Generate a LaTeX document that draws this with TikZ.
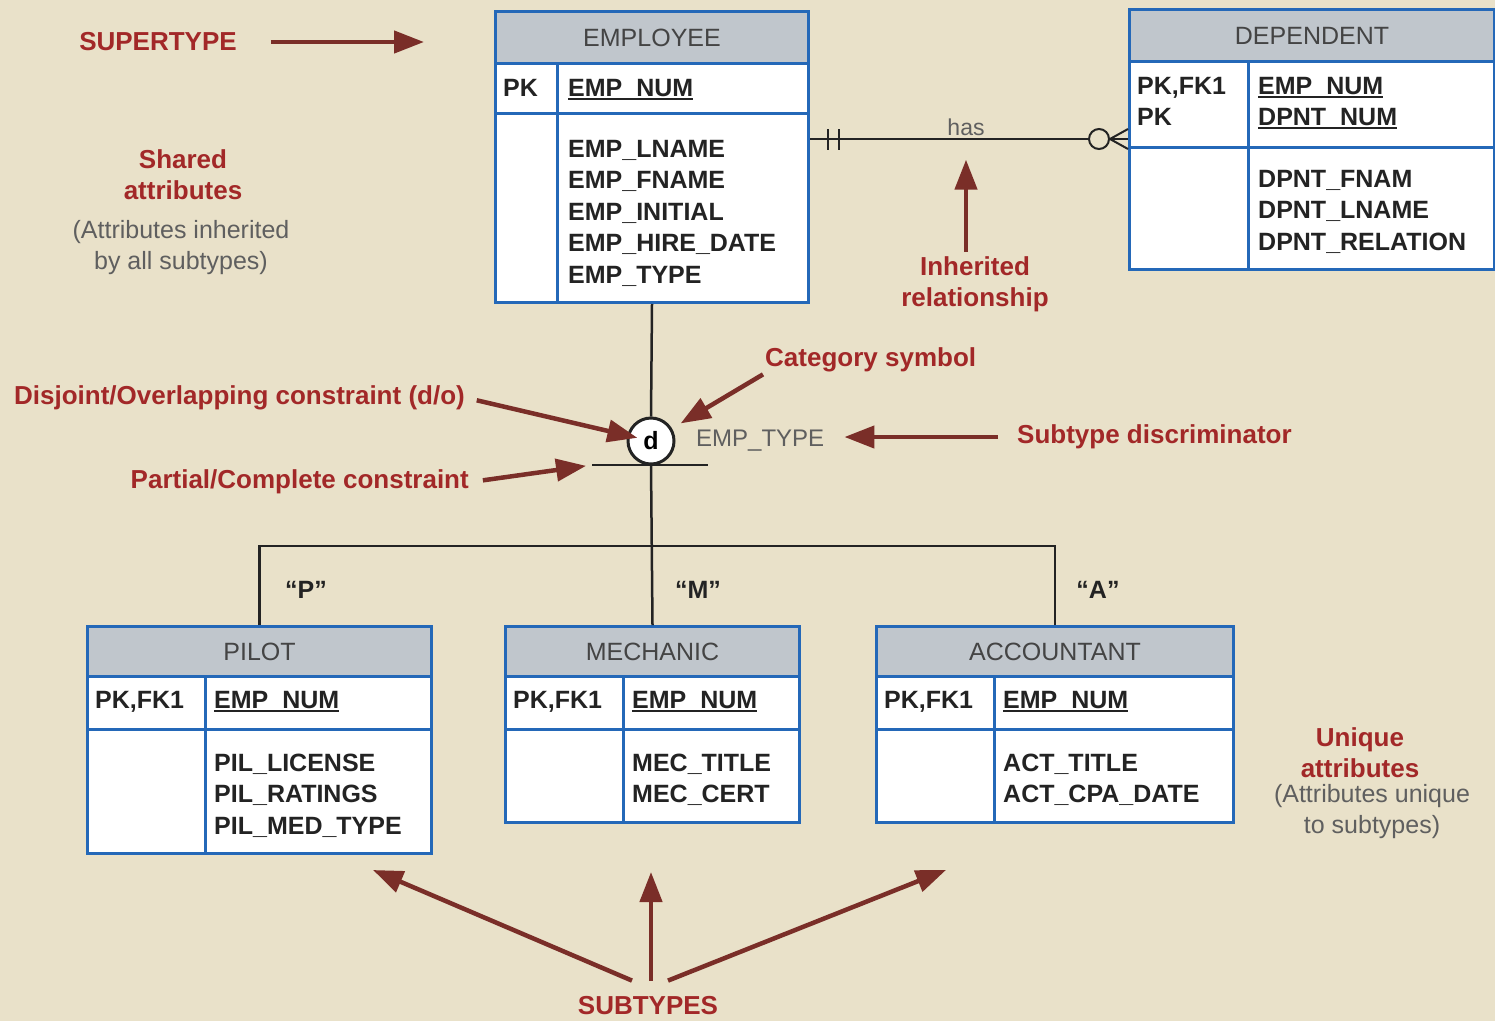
\documentclass[tikz,border=0pt]{standalone}
\usepackage{fontspec}
\setmainfont{Liberation Sans}
\usepackage{tikz}
\usetikzlibrary{arrows.meta}

\definecolor{paper}{RGB}{233,225,201}
\definecolor{tblblue}{RGB}{36,104,184}
\definecolor{headgray}{RGB}{192,198,204}
\definecolor{notered}{RGB}{162,40,40}
\definecolor{arrowred}{RGB}{122,46,40}
\definecolor{inkgray}{RGB}{95,95,95}
\definecolor{inkdark}{RGB}{35,35,35}

\newcommand\keyfield[1]{\setbox0\hbox{#1}\rlap{\rule[-4pt]{\wd0}{1.6pt}}\box0}

\begin{document}
\begin{tikzpicture}[x=1pt, y=-1pt,
	tbox/.style={rectangle, draw=tblblue, line width=3pt, fill=white,
		anchor=north west, inner sep=0pt},
	thead/.style={tbox, fill=headgray, text=inkdark!85,
		font=\fontsize{25}{30}\selectfont},
	tline/.style={draw=tblblue, line width=3pt},
	fld/.style={anchor=base west, inner sep=0pt, text=inkdark,
		font=\bfseries\fontsize{25}{30}\selectfont},
	note/.style={align=center, inner sep=2pt, text=notered,
		font=\bfseries\fontsize{26}{31}\selectfont},
	aside/.style={align=center, inner sep=2pt, text=inkgray,
		font=\fontsize{25}{31}\selectfont},
	link/.style={draw=inkdark, line width=2.5pt},
	pointer/.style={draw=arrowred, line width=4.5pt,
		-{Triangle[length=30pt,width=22pt]}}]

	\fill[paper] (0,0) rectangle (1495,1021);
	\useasboundingbox (0,0) rectangle (1495,1021);

	% connectors under the tables
	\coordinate (fork) at (651,546);
	\node[circle, draw=inkdark, line width=3pt, fill=white, minimum size=46pt,
		inner sep=0pt, font=\bfseries\fontsize{25}{30}\selectfont] (cat) at (651,441) {d};

	% EMPLOYEE
	\node[tbox, minimum width=313pt, minimum height=291pt] (emp) at (494,10) {};
	\node[thead, minimum width=313pt, minimum height=52pt] (emp-h) at (494,10) {EMPLOYEE};
	\draw[tline] (emp.west |- 0,113) -- (emp.east |- 0,113);
	\draw[tline] (557,62) -- (557,301);
	\node[fld] (emp-pk) at (503,96) {PK};
	\node[fld] (emp-k) at (568,96) {\keyfield{EMP\_NUM}};
	\foreach \f [count=\i from 0] in {EMP\_LNAME, EMP\_FNAME, EMP\_INITIAL, EMP\_HIRE\_DATE, EMP\_TYPE}
		\node[fld] (emp-a\i) at (568,157+31.5*\i) {\f};

	% DEPENDENT
	\node[tbox, minimum width=365pt, minimum height=260pt] (dep) at (1128,8) {};
	\node[thead, minimum width=365pt, minimum height=52pt] (dep-h) at (1128,8) {DEPENDENT};
	\draw[tline] (dep.west |- 0,147) -- (dep.east |- 0,147);
	\draw[tline] (1248,60) -- (1248,268);
	\node[fld] (dep-pk1) at (1137,94) {PK,FK1};
	\node[fld] (dep-pk2) at (1137,125) {PK};
	\node[fld] (dep-k1) at (1258,94) {\keyfield{EMP\_NUM}};
	\node[fld] (dep-k2) at (1258,125) {\keyfield{DPNT\_NUM}};
	\foreach \f [count=\i from 0] in {DPNT\_FNAM, DPNT\_LNAME, DPNT\_RELATION}
		\node[fld] (dep-a\i) at (1258,187+31.5*\i) {\f};

	% PILOT
	\node[tbox, minimum width=344pt, minimum height=227pt] (pil) at (86,625) {};
	\node[thead, minimum width=344pt, minimum height=50pt] (pil-h) at (86,625) {PILOT};
	\draw[tline] (pil.west |- 0,729) -- (pil.east |- 0,729);
	\draw[tline] (205,675) -- (205,852);
	\node[fld] (pil-pk) at (95,708) {PK,FK1};
	\node[fld] (pil-k) at (214,708) {\keyfield{EMP\_NUM}};
	\foreach \f [count=\i from 0] in {PIL\_LICENSE, PIL\_RATINGS, PIL\_MED\_TYPE}
		\node[fld] (pil-a\i) at (214,771+31.5*\i) {\f};

	% MECHANIC
	\node[tbox, minimum width=294pt, minimum height=196pt] (mec) at (504,625) {};
	\node[thead, minimum width=294pt, minimum height=50pt] (mec-h) at (504,625) {MECHANIC};
	\draw[tline] (mec.west |- 0,729) -- (mec.east |- 0,729);
	\draw[tline] (623,675) -- (623,821);
	\node[fld] (mec-pk) at (513,708) {PK,FK1};
	\node[fld] (mec-k) at (632,708) {\keyfield{EMP\_NUM}};
	\foreach \f [count=\i from 0] in {MEC\_TITLE, MEC\_CERT}
		\node[fld] (mec-a\i) at (632,771+31.5*\i) {\f};

	% ACCOUNTANT
	\node[tbox, minimum width=357pt, minimum height=196pt] (acc) at (875,625) {};
	\node[thead, minimum width=357pt, minimum height=50pt] (acc-h) at (875,625) {ACCOUNTANT};
	\draw[tline] (acc.west |- 0,729) -- (acc.east |- 0,729);
	\draw[tline] (994,675) -- (994,821);
	\node[fld] (acc-pk) at (884,708) {PK,FK1};
	\node[fld] (acc-k) at (1003,708) {\keyfield{EMP\_NUM}};
	\foreach \f [count=\i from 0] in {ACT\_TITLE, ACT\_CPA\_DATE}
		\node[fld] (acc-a\i) at (1003,771+31.5*\i) {\f};

	% specialization hierarchy
	\coordinate (bar-l) at (592,465);
	\coordinate (bar-r) at (708,465);
	\draw[link] (emp.south) -- (cat.north);
	\draw[link] (cat.south) -- (mec.north);
	\draw[link] (pil.north) |- (fork) -| (acc.north);
	\draw[link] (bar-l) -- (bar-r);
	\node[aside, anchor=west, font=\fontsize{24}{30}\selectfont] (disc) at (694,441) {EMP\_TYPE};
	\node[fld, anchor=center] (q-p) at (306,590) {“P”};
	\node[fld, anchor=center] (q-m) at (698,590) {“M”};
	\node[fld, anchor=center] (q-a) at (1098,590) {“A”};

	% relationship EMPLOYEE has DEPENDENT
	\coordinate (rel-l) at (emp.east |- 0,139);
	\coordinate (rel-r) at (dep.west |- 0,139);
	\draw[link, line width=2pt] (rel-l) -- (rel-r);
	\draw[link, line width=2pt] ([xshift=18pt,yshift=10pt]rel-l) -- ([xshift=18pt,yshift=-11pt]rel-l);
	\draw[link, line width=2pt] ([xshift=29pt,yshift=10pt]rel-l) -- ([xshift=29pt,yshift=-11pt]rel-l);
	\draw[link, line width=2pt, fill=paper] ([xshift=-29pt]rel-r) circle (10pt);
	\draw[link, line width=2pt] ([xshift=-18pt]rel-r) -- ([yshift=10pt]rel-r)
		([xshift=-18pt]rel-r) -- ([yshift=-10pt]rel-r);
	\node[aside, font=\fontsize{23}{28}\selectfont] (has) at (966,127) {has};

	% notes
	\node[note] (sup) at (158,42) {SUPERTYPE};
	\coordinate (sup-tip) at (424,42);
	\draw[pointer] ([xshift=32pt]sup.east) -- (sup-tip);

	\node[note] (shared) at (183,175) {Shared\\attributes};
	\node[aside] (shared-x) at (181,248) {(Attributes inherited\\by all subtypes)};

	\node[note] (inh) at (975,284) {Inherited\\relationship};
	\draw[pointer, shorten <=2pt, shorten >=22pt] (has.south |- inh.north) -- (has.south);

	\node[note, anchor=west] (catlbl) at (763,360) {Category symbol};
	\draw[pointer, shorten >=10pt] (catlbl.south west) -- (cat);

	\node[note, anchor=east] (dj) at (467,398) {Disjoint/Overlapping constraint (d/o)};
	\draw[pointer, shorten <=10pt, shorten >=14pt] (dj.east) -- (cat.center);

	\node[note, anchor=east] (pc) at (471,482) {Partial/Complete constraint};
	\draw[pointer, shorten <=12pt, shorten >=6pt] (pc.east) -- (bar-l);

	\node[note, anchor=west] (sd) at (1015,437) {Subtype discriminator};
	\draw[pointer, shorten <=17pt, shorten >=18pt] (sd.west) -- (sd.west -| disc.east);

	\node[note] (uniq) at (1360,753) {Unique\\attributes};
	\node[aside] (uniq-x) at (1372,812) {(Attributes unique\\to subtypes)};

	\node[note] (subs) at (648,1006) {SUBTYPES};
	\coordinate (st-base) at ([yshift=14pt]subs.north);
	\coordinate (st-p) at (373,870);
	\coordinate (st-m) at (651,872);
	\coordinate (st-a) at (946,870);
	\draw[pointer] ([xshift=-16pt]st-base) -- (st-p);
	\draw[pointer] ([xshift=3pt]st-base) -- (st-m);
	\draw[pointer] ([xshift=20pt]st-base) -- (st-a);
\end{tikzpicture}
\end{document}
